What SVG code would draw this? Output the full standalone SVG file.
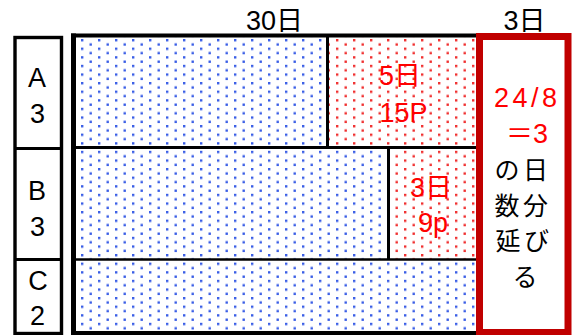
<svg xmlns="http://www.w3.org/2000/svg" width="573" height="335" viewBox="0 0 573 335">
<style>
.t{font-family:"Liberation Sans","Noto Sans CJK JP",sans-serif;font-size:27px;fill:#000;text-anchor:middle}
.r{fill:#ff0000}
.j{font-family:"Noto Sans CJK JP","Liberation Sans",sans-serif;font-size:25px;fill:#000;letter-spacing:3.5px}
.k{stroke:#000;fill:none}
</style>
<defs>
<pattern id="pb" patternUnits="userSpaceOnUse" x="81" y="39" width="17" height="8.6">
<rect x="0" y="0" width="2.4" height="2.4" fill="#3a5ee6"/>
<rect x="8.5" y="4.3" width="2.4" height="2.4" fill="#3a5ee6"/>
</pattern>
<pattern id="pr" patternUnits="userSpaceOnUse" x="81" y="39" width="17" height="8.6">
<rect x="0" y="0" width="2.4" height="2.4" fill="#f03030"/>
<rect x="8.5" y="4.3" width="2.4" height="2.4" fill="#f03030"/>
</pattern>
</defs>
<rect width="573" height="335" fill="#fff"/>

<g id="header">
<text class="t" x="274.5" y="30">30日</text>
<text class="t" x="524.5" y="30">3日</text>
</g>

<g id="labels">
<rect class="k" x="15" y="37.5" width="46.5" height="296" stroke-width="3.4"/>
<line class="k" x1="15" y1="148.5" x2="61.5" y2="148.5" stroke-width="3"/>
<line class="k" x1="15" y1="259.5" x2="61.5" y2="259.5" stroke-width="3"/>
<text class="t" x="37" y="87">A</text>
<text class="t" x="37.5" y="123">3</text>
<text class="t" x="37" y="200">B</text>
<text class="t" x="37.5" y="236">3</text>
<text class="t" x="38" y="290">C</text>
<text class="t" x="37.5" y="325">2</text>
</g>

<g id="rowA">
<rect x="76" y="37" width="251" height="110" fill="url(#pb)"/>
<rect x="329" y="37" width="147" height="110" fill="url(#pr)"/>
<text class="t r" x="400" y="85">5日</text>
<text class="t r" x="403.5" y="122">15P</text>
</g>

<g id="rowB">
<rect x="76" y="149" width="311" height="110" fill="url(#pb)"/>
<rect x="390" y="149" width="86" height="110" fill="url(#pr)"/>
<text class="t r" x="431" y="197">3日</text>
<text class="t r" x="433" y="232">9p</text>
</g>

<g id="rowC">
<rect x="76" y="261" width="400" height="70" fill="url(#pb)"/>
</g>

<g id="connectors">
<line class="k" x1="73.5" y1="33.5" x2="73.5" y2="335" stroke-width="5"/>
<line class="k" x1="71" y1="35.5" x2="477" y2="35.5" stroke-width="4"/>
<line class="k" x1="71" y1="333" x2="477" y2="333" stroke-width="4"/>
<line class="k" x1="327.5" y1="35" x2="327.5" y2="147" stroke-width="3"/>
<line class="k" x1="71" y1="147.5" x2="477" y2="147.5" stroke-width="3"/>
<line class="k" x1="388.5" y1="147" x2="388.5" y2="260" stroke-width="3"/>
<line class="k" x1="71" y1="259.5" x2="477" y2="259.5" stroke-width="2.5"/>
</g>

<g id="extension">
<rect x="479.5" y="36.5" width="88.5" height="296" fill="#fff" stroke="#c00000" stroke-width="7"/>
<text class="t r" x="525.5" y="107" textLength="63" lengthAdjust="spacing">24/8</text>
<text class="t r" x="527" y="143">＝3</text>
<text class="j" x="494.5" y="179">の日</text>
<text class="j" x="494.5" y="215">数分</text>
<text class="j" x="495.5" y="250">延び</text>
<text class="j" x="512.5" y="286">る</text>
</g>
</svg>
